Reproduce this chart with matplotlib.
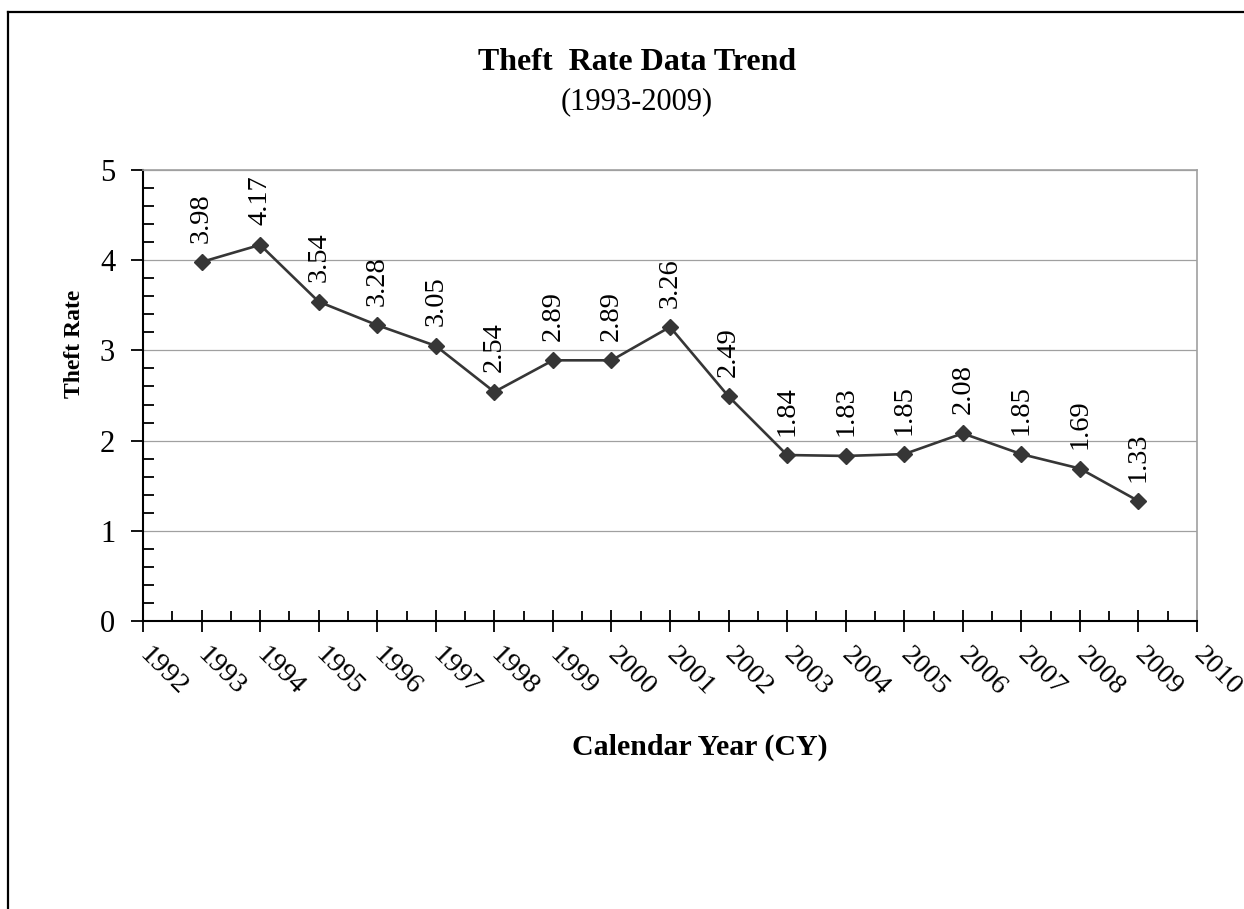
import matplotlib
matplotlib.use('Agg')
import matplotlib.pyplot as plt
from matplotlib.lines import Line2D
from matplotlib.ticker import MultipleLocator

plt.rcParams['font.family'] = ['Liberation Serif', 'DejaVu Serif']

# ################ data
years = [1993, 1994, 1995, 1996, 1997, 1998, 1999, 2000, 2001,
         2002, 2003, 2004, 2005, 2006, 2007, 2008, 2009]
theft_rate = [3.98, 4.17, 3.54, 3.28, 3.05, 2.54, 2.89, 2.89, 3.26,
              2.49, 1.84, 1.83, 1.85, 2.08, 1.85, 1.69, 1.33]
year_ticks = list(range(1992, 2011))
rate_ticks = [0, 1, 2, 3, 4, 5]

W, H = 1244, 909
fig = plt.figure(figsize=(W / 100, H / 100), dpi=100)
ax = fig.add_axes([143 / W, 1 - 621 / H, (1197 - 143) / W, (621 - 170) / H])

line_col = '#363636'
ax.plot(years, theft_rate, color=line_col, lw=1.9, marker='D',
        markersize=8.5, markerfacecolor=line_col, markeredgecolor=line_col, zorder=3)

for x, y in zip(years, theft_rate):
    ax.annotate('%.2f' % y, (x, y), xytext=(0, 14), textcoords='offset points',
                ha='center', va='bottom', rotation=90, fontsize=20.5)

ax.set_xlim(1992, 2010)
ax.set_ylim(0, 5)
ax.set_xticks(year_ticks)
ax.set_xticklabels([str(y) for y in year_ticks])
ax.set_yticks(rate_ticks)
ax.xaxis.set_minor_locator(MultipleLocator(0.5))
ax.yaxis.set_minor_locator(MultipleLocator(0.2))

ax.tick_params(axis='x', which='major', direction='inout', length=16, width=1.3,
               labelsize=20.5, pad=14)
ax.tick_params(axis='x', which='minor', direction='in', length=7, width=1.3)
ax.tick_params(axis='y', which='major', direction='out', length=9, width=1.3,
               labelsize=22, pad=11)
ax.tick_params(axis='y', which='minor', direction='in', length=8, width=1.3)

for lab in ax.get_xticklabels():
    lab.set_rotation(-45)
    lab.set_ha('left')
    lab.set_va('center')
    lab.set_rotation_mode('anchor')

ax.yaxis.grid(True, color='#a0a0a0', lw=0.9)
ax.set_axisbelow(True)

ax.spines['left'].set_color('black')
ax.spines['left'].set_linewidth(1.5)
ax.spines['bottom'].set_color('black')
ax.spines['bottom'].set_linewidth(1.5)
ax.spines['top'].set_color('#a0a0a0')
ax.spines['right'].set_color('#a0a0a0')
ax.spines['top'].set_linewidth(1.2)
ax.spines['right'].set_linewidth(1.2)

ax.set_ylabel('Theft Rate', fontsize=17, fontweight='bold')
ax.yaxis.set_label_coords((75 - 143) / (1197 - 143), (621 - 344) / (621 - 170))
ax.yaxis.label.set_va('center')
ax.set_xlabel('Calendar Year (CY)', fontsize=21.5, fontweight='bold')
ax.xaxis.set_label_coords((700 - 143) / (1197 - 143), -(747 - 621) / (621 - 170))
ax.xaxis.label.set_va('center')

fig.text(637 / W, 1 - 62 / H, 'Theft  Rate Data Trend', ha='center', va='center',
         fontsize=23, fontweight='bold')
fig.text(637 / W, 1 - 102 / H, '(1993-2009)', ha='center', va='center', fontsize=22)

# figure border (top and left visible)
fig.add_artist(Line2D([8 / W, 1], [1 - 12 / H, 1 - 12 / H], transform=fig.transFigure,
                      color='black', lw=1.6))
fig.add_artist(Line2D([8 / W, 8 / W], [0, 1 - 12 / H], transform=fig.transFigure,
                      color='black', lw=1.6))

fig.savefig('out.png', dpi=100)
